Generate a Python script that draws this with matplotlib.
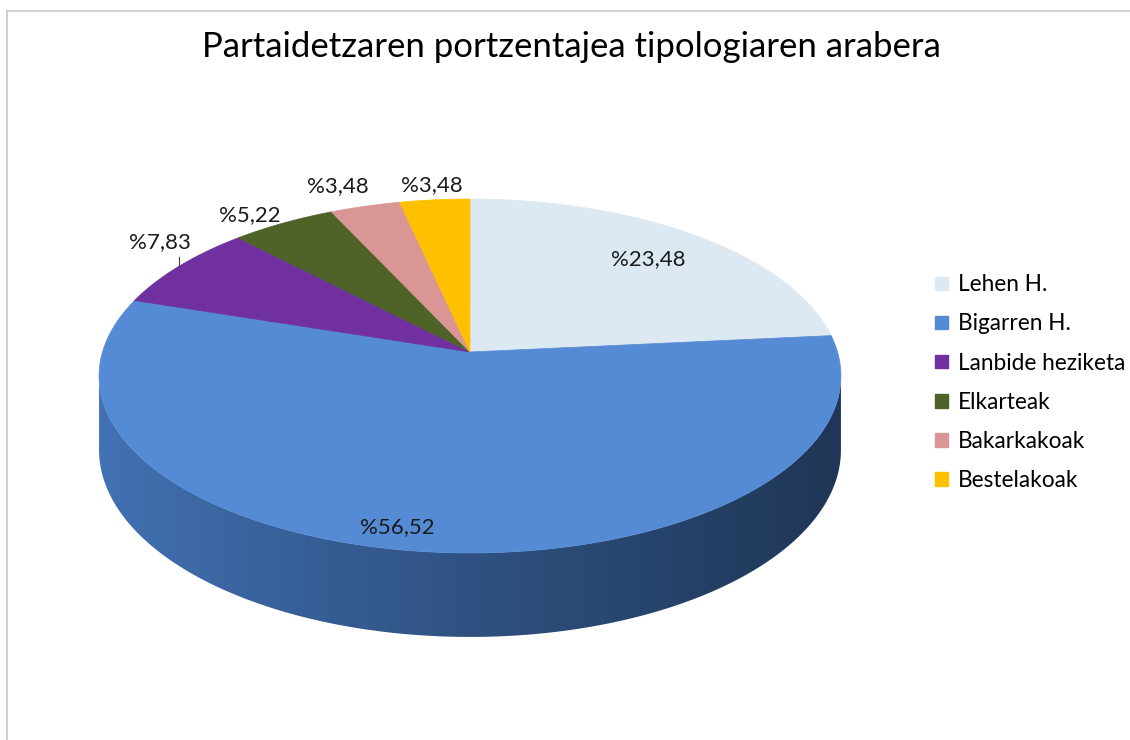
import numpy as np
import matplotlib
matplotlib.use("Agg")
import matplotlib.pyplot as plt
from matplotlib.patches import Polygon, Patch
import matplotlib.colors as mcolors

plt.rcParams['font.family'] = ['Lato', 'DejaVu Sans']

# data
categories = ["Lehen H.", "Bigarren H.", "Lanbide heziketa", "Elkarteak", "Bakarkakoak", "Bestelakoak"]
values = [23.48, 56.52, 7.83, 5.22, 3.48, 3.48]
labels = ["%23,48", "%56,52", "%7,83", "%5,22", "%3,48", "%3,48"]
colors = ["#dce9f2", "#558bd4", "#7030a0", "#4f6228", "#d99694", "#ffc000"]
title = "Partaidetzaren portzentajea tipologiaren arabera"

# fake 3d geometry (pixels)
cx, cy = 470, 352
a, b = 367.5, 173.7
k = 0.1356
depth = 72.6


def proj(t, r=1.0, z=0.0):
    X = r * np.cos(t)
    Y = r * np.sin(t)
    w = 1 + k * Y
    return cx + a * X / w, cy - b * Y / w + z * depth / w


fig = plt.figure(figsize=(11.3, 7.4), dpi=100)
ax = fig.add_axes([0, 0, 1, 1])
ax.set_xlim(0, 1130)
ax.set_ylim(740, 0)
ax.axis("off")

# frame lines
ax.plot([7, 1130], [11, 11], color="#c8c8c8", lw=1.2)
ax.plot([7, 7], [11, 740], color="#c8c8c8", lw=1.2)

# slice angles, start at 12 o'clock, clockwise
frac = np.array(values) / sum(values)
ends = np.pi / 2 - 2 * np.pi * np.cumsum(frac)
starts = np.concatenate([[np.pi / 2], ends[:-1]])

# side wall (front only) - all of it belongs to the big slice
t_left = np.pi + np.arcsin(k)
t_right = 2 * np.pi - np.arcsin(k)
ts = np.linspace(t_left, t_right, 300)
top_edge = [proj(t) for t in ts]
bot_edge = [proj(t, z=1) for t in ts[::-1]]
side = Polygon(top_edge + bot_edge, closed=True, facecolor="none", edgecolor="none")
ax.add_patch(side)
xl = np.array([p[0] for p in top_edge])
x0, x1 = xl.min(), xl.max()
c_left = np.array(mcolors.to_rgb("#4272b4"))
c_right = np.array(mcolors.to_rgb("#1f3656"))
g = np.linspace(0, 1, 400) ** 0.9
grad = c_left[None, :] * (1 - g[:, None]) + c_right[None, :] * g[:, None]
img = ax.imshow(grad[None, :, :], extent=(x0, x1, 660, 300), aspect="auto",
                interpolation="bilinear", zorder=2)
img.set_clip_path(side)
ax.set_xlim(0, 1130)
ax.set_ylim(740, 0)

# top face
for s, e, col in zip(starts, ends, colors):
    tt = np.linspace(s, e, 200)
    pts = [(cx, cy)] + [proj(t) for t in tt]
    ax.add_patch(Polygon(pts, closed=True, facecolor=col, edgecolor=col, lw=0.5, zorder=3))

# data labels
fs_lab = 16
txt_col = "#1a1a1a"
mids = (starts + ends) / 2
# inside labels
x, y = proj(mids[0], r=0.78)
ax.text(x, y, labels[0], ha="center", va="center", fontsize=fs_lab, color=txt_col, zorder=5)
x, y = proj(mids[1], r=0.9)
ax.text(x - 32, y - 2, labels[1], ha="center", va="center", fontsize=fs_lab, color=txt_col, zorder=5)
# outside labels, offsets from the rim
offs = {2: (-20, -24), 3: (-33, -8), 4: (-27, -20), 5: (-3, -15)}
for i, (dx, dy) in offs.items():
    x, y = proj(mids[i])
    ax.text(x + dx, y + dy, labels[i], ha="center", va="center", fontsize=fs_lab, color=txt_col, zorder=5)
    if i == 2:
        ax.plot([x, x], [y, y - 9], color="#404040", lw=0.8, zorder=5)

ax.text(571, 47, title, ha="center", va="center", fontsize=25, color="#000000")

handles = [Patch(facecolor=c, edgecolor=c) for c in colors]
fig.legend(handles, categories, loc="upper left", bbox_to_anchor=(915 / 1130, 1 - 254 / 740),
           frameon=False, fontsize=16.3, handlelength=0.55, handleheight=0.55, handletextpad=0.45,
           labelspacing=0.8)

fig.savefig("out.png", dpi=100)
